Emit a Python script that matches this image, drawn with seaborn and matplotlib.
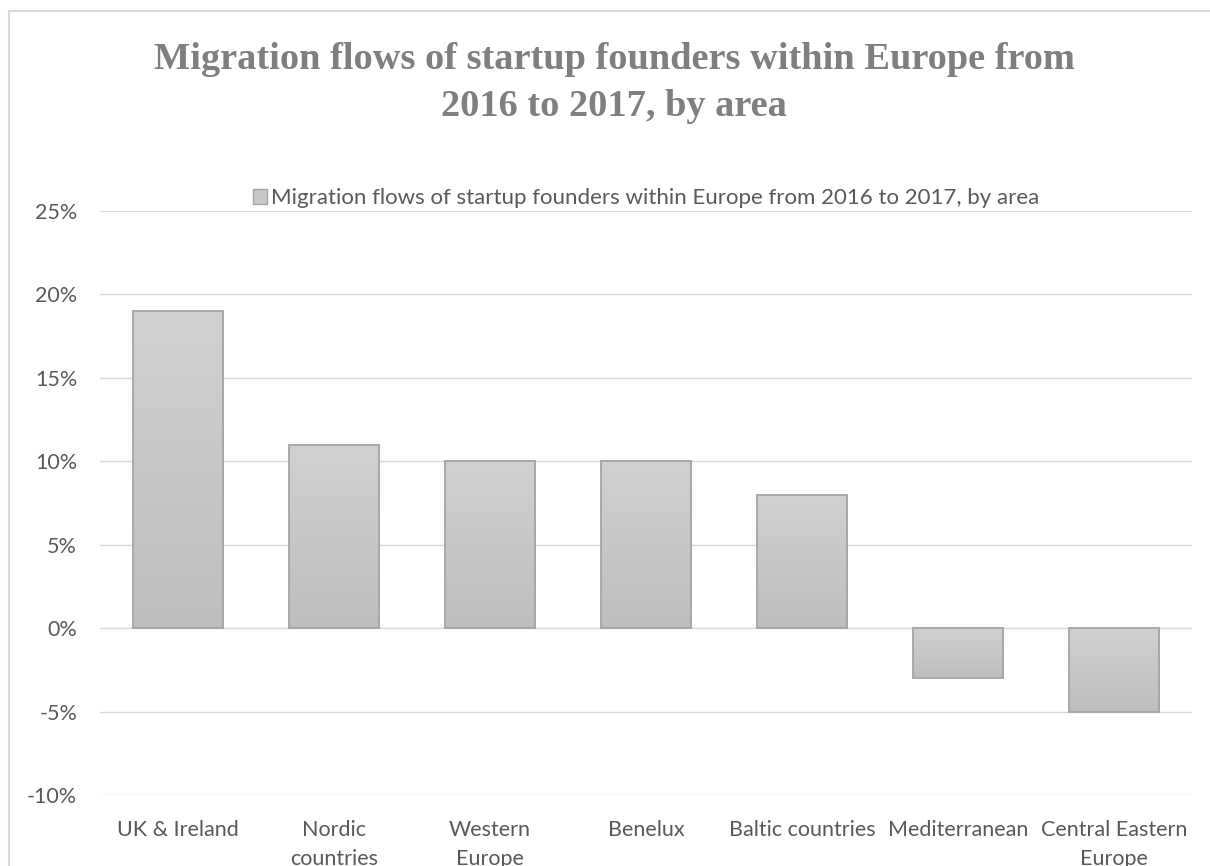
import numpy as np
import pandas as pd
import matplotlib
matplotlib.use("Agg")
import matplotlib.pyplot as plt
import seaborn as sns
from matplotlib.patches import Patch, Rectangle
from matplotlib.colors import LinearSegmentedColormap
from matplotlib.ticker import FuncFormatter, MultipleLocator

# Data
areas = ["UK & Ireland", "Nordic\ncountries", "Western\nEurope", "Benelux",
         "Baltic countries", "Mediterranean", "Central Eastern\nEurope"]
flows = [19, 11, 10, 10, 8, -3, -5]
series_name = "Migration flows of startup founders within Europe from 2016 to 2017, by area"
title = "Migration flows of startup founders within Europe from\n2016 to 2017, by area"

df = pd.DataFrame({"area": areas, "flow": flows})

sns.set_theme(style="white")
plt.rcParams["font.family"] = ["Lato", "DejaVu Sans"]

fig = plt.figure(figsize=(12.10, 8.66), dpi=100)
ax = fig.add_axes([100 / 1210, 1 - 795 / 866, 1092 / 1210, 584 / 866])

sns.barplot(data=df, x="area", y="flow", ax=ax, color="#c8c8c8",
            width=0.577, edgecolor="#a5a5a5", linewidth=1.3, zorder=3)

ax.set_ylim(-10, 25)
ax.yaxis.set_major_locator(MultipleLocator(5))
ax.yaxis.set_major_formatter(FuncFormatter(lambda v, p: f"{v:.0f}%"))
ax.grid(axis="y", color="#d9d9d9", linewidth=1.0, zorder=0)
ax.grid(axis="x", visible=False)
for s in ax.spines.values():
    s.set_visible(False)
ax.set_xlabel("")
ax.set_ylabel("")
ax.tick_params(axis="both", length=0, colors="#595959", labelsize=15.5)
ax.tick_params(axis="y", pad=16.5)
ax.tick_params(axis="x", pad=18)
for lbl in ax.get_xticklabels():
    lbl.set_linespacing(1.55)

# Vertical gradient fill inside each bar (lighter at top, darker at bottom)
cmap = LinearSegmentedColormap.from_list("bar_grad", ["#bebebe", "#d1d1d1"])
grad = np.linspace(0, 1, 256).reshape(-1, 1)
for bar in list(ax.patches):
    x0, y0 = bar.get_x(), bar.get_y()
    w, h = bar.get_width(), bar.get_height()
    lo, hi = min(y0, y0 + h), max(y0, y0 + h)
    im = ax.imshow(grad, cmap=cmap, origin="lower", aspect="auto",
                   extent=(x0, x0 + w, lo, hi), zorder=3, interpolation="bilinear")
    im.set_clip_path(bar)
    bar.set_facecolor("none")
    bar.set_zorder(4)
ax.set_xlim(-0.5, len(areas) - 0.5)
ax.set_ylim(-10, 25)

# Legend above the plot area
handle = Patch(facecolor="#c8c8c8", edgecolor="#a5a5a5", linewidth=1.0)
leg = ax.legend([handle], [series_name], loc="center", frameon=False,
                bbox_to_anchor=(0.5, 1 + 13 / 584), fontsize=16,
                handlelength=0.65, handleheight=0.65, handletextpad=0.15,
                borderaxespad=0)
for t in leg.get_texts():
    t.set_color("#595959")

# Chart title
fig.text(614 / 1210, 1 - 83 / 866, title, ha="center", va="center",
         family="Liberation Serif", fontweight="bold", fontsize=27.6,
         color="#7f7f7f", linespacing=1.42)

# Chart-area border
fig.patches.append(Rectangle((9 / 1210, -0.1), 2.0, 1.1 - 11 / 866,
                             transform=fig.transFigure, fill=False,
                             edgecolor="#d9d9d9", linewidth=1.5))

fig.savefig("out.png", dpi=100, facecolor="white")
